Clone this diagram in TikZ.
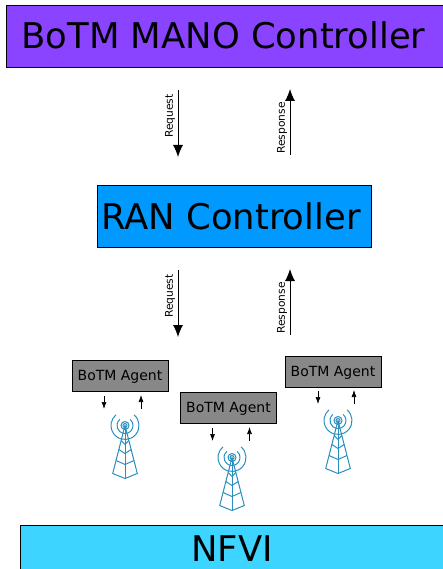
\documentclass[tikz,border=0pt]{standalone}
\usepackage{fontspec}
\usetikzlibrary{arrows.meta}
\setmainfont{DejaVu Sans}
\definecolor{manocol}{HTML}{8A43FF}
\definecolor{rancol}{HTML}{0099FF}
\definecolor{nfvicol}{HTML}{3DD5FF}
\definecolor{agentcol}{HTML}{888888}
\definecolor{towercol}{HTML}{2A8FBF}
\tikzset{
		bigbox/.style={
			rectangle, draw=black, thin, inner sep=0pt},
		bigtext/.style={
			inner sep=0pt, font=\fontsize{35.4}{40}\selectfont},
		agent/.style={
			rectangle, draw=black, thin, fill=agentcol, minimum width=96pt, minimum height=31pt, inner sep=0pt, text depth=0pt, font=\fontsize{14}{16}\selectfont},
		bigarrow/.style={draw,line width=0.9pt,-{Latex[length=12pt,width=10pt]},black},
		smallarrow/.style={draw,line width=0.7pt,-{Latex[length=7pt,width=5pt]},black},
		rotu/.style={rotate=90, inner sep=0pt, font=\fontsize{10.7}{12}\selectfont},
		tower/.pic={
			\draw[towercol, line width=1pt] (-12.3,48) -- (0,0) -- (12.3,48) -- (0,53) -- cycle;
			\draw[towercol, line width=1pt] (0,0) -- (0,53);
			\foreach \h in {15,24,35} {
				\draw[towercol, line width=1pt] (-\h*0.256,\h) -- (0,\h+4) -- (\h*0.256,\h);
			}
			\draw[towercol, line width=1pt] (0,0) circle (4);
			\draw[towercol, line width=1pt] (0,0) circle (2);
			\draw[towercol, line width=1pt] (-50:8) arc (-50:230:8);
			\draw[towercol, line width=1pt] (-50:14) arc (-50:230:14);
		},
	}

\begin{document}
\begin{tikzpicture}[x=1pt, y=-1pt]
			\useasboundingbox (0,0) rectangle (443,569);
			\node[bigbox, fill=manocol, minimum width=440pt, minimum height=62pt] (mano) at (226,36) {};
			\node[bigtext] (manolabel) at (223.5,35) {BoTM MANO Controller};
			\node[bigbox, fill=rancol, minimum width=274pt, minimum height=62pt] (ran) at (234,216) {};
			\node[bigtext] (ranlabel) at (231,216) {RAN Controller};
			\node[bigbox, fill=nfvicol, minimum width=430pt, minimum height=50pt] (nfvi) at (235,550) {};
			\node[bigtext] (nfvilabel) at (232,549) {NFVI};
			\node[agent] (a1) at (120,375.5) {BoTM Agent};
			\node[agent] (a2) at (228.5,407.5) {BoTM Agent};
			\node[agent] (a3) at (333,371.5) {BoTM Agent};
			\pic at (125,425.5) {tower};
			\pic at (232,457.5) {tower};
			\pic at (338,420.5) {tower};
			% top pair
			\coordinate (r1s) at (178,90); \coordinate (r1e) at (178,157);
			\coordinate (s1s) at (290,155); \coordinate (s1e) at (290,89);
			\draw[bigarrow] (r1s) -- (r1e);
			\draw[bigarrow] (s1s) -- (s1e);
			\node[rotu] (r1l) at (170,116) {Request};
			\node[rotu] (s1l) at (282,128) {Response};
			% lower pair
			\coordinate (r2s) at (178,270); \coordinate (r2e) at (178,337);
			\coordinate (s2s) at (290,335); \coordinate (s2e) at (290,269);
			\draw[bigarrow] (r2s) -- (r2e);
			\draw[bigarrow] (s2s) -- (s2e);
			\node[rotu] (r2l) at (170,296) {Request};
			\node[rotu] (s2l) at (282,308) {Response};
			% agent arrows
			\foreach \x/\y/\d in {104/396/37, 212.5/428/37, 318/391/36} {
				\coordinate (p) at (\x,\y); \coordinate (q) at (\x,\y+13);
				\coordinate (u) at (\x+\d,\y+13); \coordinate (v) at (\x+\d,\y-1);
				\draw[smallarrow] (p) -- (q);
				\draw[smallarrow] (u) -- (v);
			}
			\end{tikzpicture}
\end{document}
